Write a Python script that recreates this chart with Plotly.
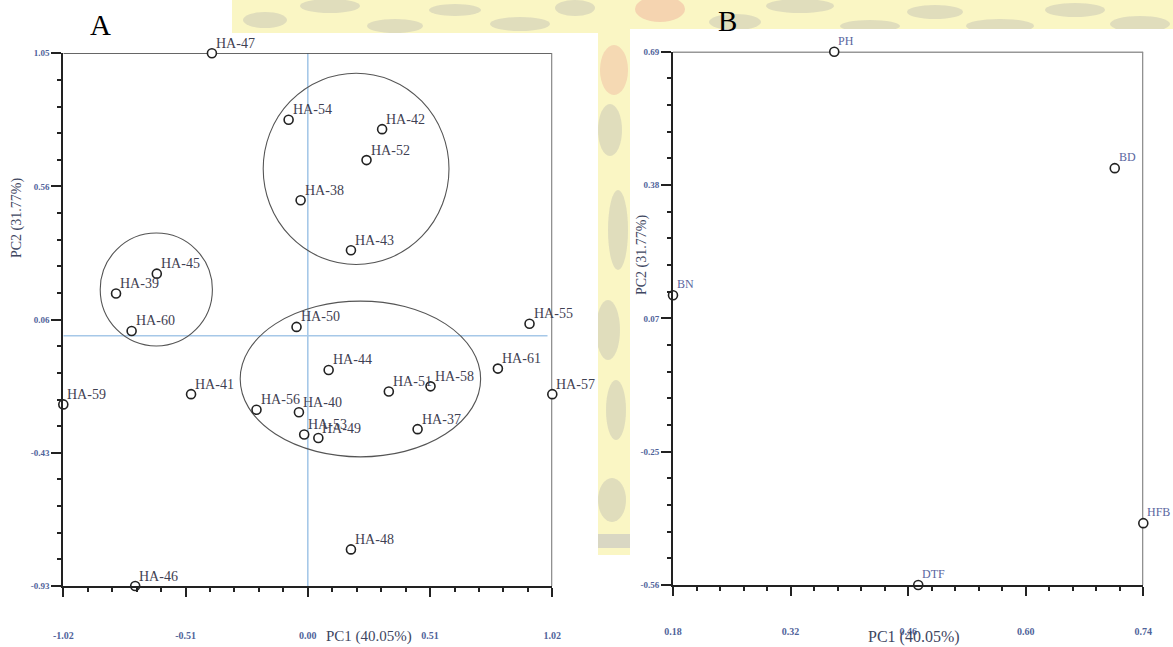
import plotly.graph_objects as go

W, H = 1173, 647

# ---- Panel A: genotype scores on PC1 / PC2 ----
geno = ["HA-47", "HA-54", "HA-42", "HA-52", "HA-38", "HA-43", "HA-45", "HA-39",
        "HA-60", "HA-50", "HA-55", "HA-44", "HA-61", "HA-51", "HA-58", "HA-57",
        "HA-59", "HA-41", "HA-56", "HA-40", "HA-53", "HA-49", "HA-37", "HA-48", "HA-46"]
geno_pc1 = [-0.40, -0.08, 0.31, 0.245, -0.03, 0.18, -0.63, -0.80,
            -0.735, -0.047, 0.925, 0.087, 0.793, 0.338, 0.512, 1.02,
            -1.02, -0.487, -0.214, -0.037, -0.015, 0.044, 0.458, 0.18, -0.72]
geno_pc2 = [1.05, 0.803, 0.768, 0.653, 0.504, 0.318, 0.231, 0.157,
            0.018, 0.033, 0.045, -0.127, -0.122, -0.207, -0.188, -0.217,
            -0.255, -0.217, -0.275, -0.284, -0.367, -0.380, -0.347, -0.794, -0.93]

# cluster outlines (x0, x1, y0, y1 in PC units)
cluster_x0 = [-0.186, -0.866, -0.282]
cluster_x1 = [0.589, -0.398, 0.721]
cluster_y0 = [0.265, -0.038, -0.450]
cluster_y1 = [0.976, 0.382, 0.129]

a_xticks = [-1.02, -0.51, 0.00, 0.51, 1.02]
a_xtext = ["-1.02", "-0.51", "0.00", "0.51", "1.02"]
a_yticks = [-0.93, -0.435, 0.06, 0.555, 1.05]
a_ytext = ["-0.93", "-0.43", "0.06", "0.56", "1.05"]

# ---- Panel B: trait loadings ----
traits = ["PH", "BD", "BN", "HFB", "DTF"]
trait_pc1 = [0.372, 0.706, 0.18, 0.74, 0.472]
trait_pc2 = [0.69, 0.417, 0.119, -0.415, -0.56]

b_xticks = [0.18, 0.32, 0.46, 0.60, 0.74]
b_xtext = ["0.18", "0.32", "0.46", "0.60", "0.74"]
b_yticks = [-0.56, -0.2475, 0.065, 0.3775, 0.69]
b_ytext = ["-0.56", "-0.25", "0.07", "0.38", "0.69"]


def px(x):
    return x / W


def py(y):
    return 1 - y / H


def minor_between(ticks, n=4):
    out = []
    for a, b in zip(ticks[:-1], ticks[1:]):
        step = (b - a) / (n + 1)
        out += [a + step * k for k in range(1, n + 1)]
    return out


SERIF = "Liberation Serif, Times New Roman, serif"
TICK_COLOR = "#50639a"
MARKER = dict(symbol="circle", size=9, color="white",
              line=dict(color="#222222", width=1.6))

fig = go.Figure()

fig.add_trace(go.Scatter(
    x=geno_pc1, y=geno_pc2, mode="markers", marker=MARKER,
    cliponaxis=False, xaxis="x", yaxis="y", showlegend=False, hovertext=geno,
))
fig.add_trace(go.Scatter(
    x=trait_pc1, y=trait_pc2, mode="markers", marker=MARKER,
    cliponaxis=False, xaxis="x2", yaxis="y2", showlegend=False, hovertext=traits,
))


def axis_common(domain, rng, ticks, text, minor_ticks, ticklen, standoff, size):
    return dict(
        domain=domain, range=rng, tickmode="array", tickvals=ticks, ticktext=text,
        showline=True, linecolor="#222222", linewidth=2, mirror=False,
        ticks="outside", ticklen=ticklen, tickwidth=1.5, tickcolor="#222222",
        showgrid=False, zeroline=False, fixedrange=True, automargin=False,
        tickfont=dict(family=SERIF, size=size, color=TICK_COLOR, weight="bold"),
        ticklabelstandoff=standoff,
        minor=dict(tickmode="array", tickvals=minor_ticks, ticks="outside",
                   ticklen=4, tickwidth=1.5, tickcolor="#222222", showgrid=False),
    )


fig.update_layout(
    width=W, height=H, margin=dict(l=0, r=0, t=0, b=0, autoexpand=False),
    paper_bgcolor="white", plot_bgcolor="rgba(0,0,0,0)",
    xaxis=dict(**axis_common([px(63.3), px(552.3)], [-1.02, 1.02], a_xticks, a_xtext,
                             minor_between(a_xticks), 9, 30, 10), anchor="y"),
    yaxis=dict(**axis_common([py(586), py(53.3)], [-0.93, 1.05], a_yticks, a_ytext,
                             minor_between(a_yticks), 10, 0, 9), anchor="x"),
    xaxis2=dict(**axis_common([px(673), px(1143.3)], [0.18, 0.74], b_xticks, b_xtext,
                              minor_between(b_xticks), 9, 27, 10), anchor="y2"),
    yaxis2=dict(**axis_common([py(585), py(51.7)], [-0.56, 0.69], b_yticks, b_ytext,
                              minor_between(b_yticks), 10, 0, 9), anchor="x2"),
)

shapes = []

# faint watermark behind the panels
WM_Y = "#faf6c4"
for x0, y0, x1, y1 in [(232, 0, 1173, 34), (598, 0, 630, 555)]:
    shapes.append(dict(type="rect", xref="paper", yref="paper", layer="below",
                       x0=px(x0), x1=px(x1), y0=py(y1), y1=py(y0),
                       fillcolor=WM_Y, line=dict(width=0)))
blobs = [(265, 20, 22, 8), (330, 6, 30, 7), (395, 26, 28, 7), (455, 10, 26, 6),
         (520, 24, 30, 7), (575, 8, 20, 8), (735, 22, 26, 8), (800, 6, 34, 7),
         (870, 26, 30, 6), (935, 12, 28, 7), (1000, 26, 34, 7), (1075, 10, 30, 7),
         (1140, 24, 30, 8), (610, 130, 12, 26), (618, 230, 10, 40), (608, 330, 12, 30),
         (616, 410, 10, 30), (612, 500, 14, 22)]
for cx, cy, rx, ry in blobs:
    shapes.append(dict(type="circle", xref="paper", yref="paper", layer="below",
                       x0=px(cx - rx), x1=px(cx + rx), y0=py(cy + ry), y1=py(cy - ry),
                       fillcolor="rgba(175,175,175,0.35)", line=dict(width=0)))
shapes.append(dict(type="circle", xref="paper", yref="paper", layer="below",
                   x0=px(635), x1=px(685), y0=py(22), y1=py(-4),
                   fillcolor="rgba(235,150,140,0.35)", line=dict(width=0)))
shapes.append(dict(type="circle", xref="paper", yref="paper", layer="below",
                   x0=px(600), x1=px(628), y0=py(95), y1=py(45),
                   fillcolor="rgba(235,150,140,0.3)", line=dict(width=0)))
shapes.append(dict(type="rect", xref="paper", yref="paper", layer="below",
                   x0=px(598), x1=px(630), y0=py(548), y1=py(534),
                   fillcolor="rgba(195,195,195,0.6)", line=dict(width=0)))

# white sheets that hold the two panels
shapes.append(dict(type="rect", xref="paper", yref="paper", layer="below",
                   x0=0, x1=px(598), y0=0, y1=py(33),
                   fillcolor="white", line=dict(width=0)))
shapes.append(dict(type="rect", xref="paper", yref="paper", layer="below",
                   x0=px(630), x1=1, y0=0, y1=py(29),
                   fillcolor="white", line=dict(width=0)))

# reference lines through the origin of panel A
shapes.append(dict(type="line", xref="x", yref="y", layer="below",
                   x0=0, x1=0, y0=-0.93, y1=1.05,
                   line=dict(color="#a6c8e8", width=1.6)))
shapes.append(dict(type="line", xref="x", yref="y", layer="below",
                   x0=-1.02, x1=1.0, y0=0, y1=0,
                   line=dict(color="#a6c8e8", width=1.6)))

# cluster ellipses
for x0, x1, y0, y1 in zip(cluster_x0, cluster_x1, cluster_y0, cluster_y1):
    shapes.append(dict(type="circle", xref="x", yref="y", layer="below",
                       x0=x0, x1=x1, y0=y0, y1=y1,
                       line=dict(color="#555555", width=1.1)))

# frame: dark top edge, grey right edge
for xr, yr, xa, xb, ya, yb in [("x", "y", -1.02, 1.02, 1.05, 1.05),
                               ("x2", "y2", 0.18, 0.74, 0.69, 0.69)]:
    shapes.append(dict(type="line", xref=xr, yref=yr, layer="below",
                       x0=xa, x1=xb, y0=ya, y1=yb,
                       line=dict(color="#333333", width=1.5)))
for xr, yr, xv, ya, yb in [("x", "y", 1.02, -0.93, 1.05),
                           ("x2", "y2", 0.74, -0.56, 0.69)]:
    shapes.append(dict(type="line", xref=xr, yref=yr, layer="below",
                       x0=xv, x1=xv, y0=ya, y1=yb,
                       line=dict(color="#8c8c8c", width=2.5)))

fig.update_layout(shapes=shapes)

TITLE_COLOR = "#3e465f"
annotations = [
    dict(text="A", x=px(100), y=py(25), font=dict(family=SERIF, size=29, color="black")),
    dict(text="B", x=px(727), y=py(21), font=dict(family=SERIF, size=29, color="black")),
    dict(text="PC1 (40.05%)", x=px(369), y=py(636),
         font=dict(family=SERIF, size=15, color=TITLE_COLOR)),
    dict(text="PC2 (31.77%)", x=px(17), y=py(218), textangle=-90,
         font=dict(family=SERIF, size=14, color=TITLE_COLOR)),
    dict(text="PC1 (40.05%)", x=px(914), y=py(637),
         font=dict(family=SERIF, size=16, color=TITLE_COLOR)),
    dict(text="PC2 (31.77%)", x=px(642), y=py(255), textangle=-90,
         font=dict(family=SERIF, size=14, color=TITLE_COLOR)),
]
for a in annotations:
    a.update(xref="paper", yref="paper", showarrow=False,
             xanchor="center", yanchor="middle")

# point labels, placed just above and to the right of each marker
for name, xv, yv in zip(geno, geno_pc1, geno_pc2):
    annotations.append(dict(text=name, x=xv, y=yv, xref="x", yref="y",
                            showarrow=False, xanchor="left", yanchor="middle",
                            xshift=2, yshift=10,
                            font=dict(family=SERIF, size=14, color="#3f4152")))
for name, xv, yv in zip(traits, trait_pc1, trait_pc2):
    annotations.append(dict(text=name, x=xv, y=yv, xref="x2", yref="y2",
                            showarrow=False, xanchor="left", yanchor="middle",
                            xshift=2, yshift=11,
                            font=dict(family=SERIF, size=12, color="#5a66a0")))

fig.update_layout(annotations=annotations)

fig.write_html("out.html")
